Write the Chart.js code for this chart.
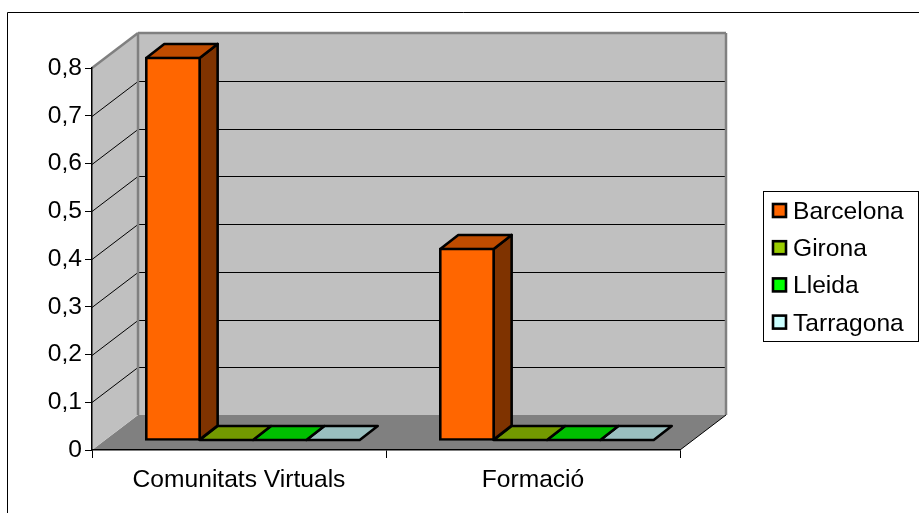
<!DOCTYPE html>
<html>
<head>
<meta charset="utf-8">
<style>
  html, body { margin: 0; padding: 0; background: #fff; }
  canvas { display: block; }
</style>
<script src="https://cdn.jsdelivr.net/npm/chart.js@4"></script>
</head>
<body>
<canvas id="chart" width="919" height="513"></canvas>
<script>
const categories = ["Comunitats Virtuals", "Formació"];
const barcelona = [0.8, 0.4];
const girona = [0, 0];
const lleida = [0, 0];
const tarragona = [0, 0];
const yTickLabels = ["0", "0,1", "0,2", "0,3", "0,4", "0,5", "0,6", "0,7", "0,8"];

const FONT = '"Liberation Sans", Arial, sans-serif';
const FONT_SIZE = 24.6;

// Oblique projection used for the box: full depth of the room, and the bars' place in it.
const ROOM = { dx: 46, dy: -35 };
const BAR_OFFSET = { dx: 14, dy: -10 };
const BAR_DEPTH = { dx: 18, dy: -14 };
const EDGE = 2.6;

function poly(ctx, pts, fill, stroke, lw) {
  ctx.beginPath();
  pts.forEach((p, i) => i ? ctx.lineTo(p[0], p[1]) : ctx.moveTo(p[0], p[1]));
  ctx.closePath();
  if (fill) { ctx.fillStyle = fill; ctx.fill(); }
  if (stroke) { ctx.strokeStyle = stroke; ctx.lineWidth = lw; ctx.lineJoin = 'round'; ctx.stroke(); }
}

function segment(ctx, x1, y1, x2, y2, color, lw) {
  ctx.beginPath();
  ctx.moveTo(x1, y1);
  ctx.lineTo(x2, y2);
  ctx.strokeStyle = color;
  ctx.lineWidth = lw;
  ctx.stroke();
}

// Outer frame, side wall, back wall, floor and grid of the 3D room.
const roomPlugin = {
  id: 'room',
  beforeDraw(chart) {
    const { ctx, chartArea: a, scales: { y } } = chart;
    const { dx, dy } = ROOM;
    ctx.save();
    ctx.fillStyle = '#fff';
    ctx.fillRect(0, 0, chart.width, chart.height);
    segment(ctx, 7.5, 12.5, 919, 12.5, '#000', 1);
    segment(ctx, 7.5, 12.5, 7.5, 513, '#000', 1);

    poly(ctx, [[a.left, a.bottom], [a.left + dx, a.bottom + dy], [a.right + dx, a.bottom + dy], [a.right, a.bottom]], '#808080');
    poly(ctx, [[a.left + dx, a.top + dy], [a.right + dx, a.top + dy], [a.right + dx, a.bottom + dy], [a.left + dx, a.bottom + dy]], '#C0C0C0');
    poly(ctx, [[a.left, a.top], [a.left + dx, a.top + dy], [a.left + dx, a.bottom + dy], [a.left, a.bottom]], '#C0C0C0');

    y.ticks.forEach(t => {
      if (t.value <= 0 || t.value >= y.max - 1e-9) return;
      const py = Math.round(y.getPixelForValue(t.value)) + 0.5;
      segment(ctx, a.left, py, a.left + dx, py + dy, '#000', 1);
      segment(ctx, a.left + dx, py + dy, a.right + dx, py + dy, '#000', 1);
    });

    // Grey edges of the walls
    segment(ctx, a.left, a.top, a.left + dx, a.top + dy, '#808080', 2.5);
    segment(ctx, a.left + dx, a.top + dy, a.right + dx, a.top + dy, '#808080', 2.5);
    segment(ctx, a.left + dx, a.top + dy, a.left + dx, a.bottom + dy, '#808080', 2.5);
    segment(ctx, a.right + dx, a.top + dy, a.right + dx, a.bottom + dy, '#808080', 2.5);
    segment(ctx, a.right, a.bottom, a.right + dx, a.bottom + dy, '#000', 1);
    ctx.restore();
  }
};

// Shifts each series into the room and adds the top and side faces of its bars.
const extrudePlugin = {
  id: 'extrude',
  beforeDatasetDraw(chart, args) {
    const { ctx } = chart;
    const ds = chart.data.datasets[args.index];
    ctx.save();
    ctx.translate(BAR_OFFSET.dx, BAR_OFFSET.dy);
    args.meta.data.forEach(el => {
      const { x, y, base, width } = el.getProps(['x', 'y', 'base', 'width'], true);
      const l = x - width / 2, r = x + width / 2;
      const { dx, dy } = BAR_DEPTH;
      if (base - y > 0.5) {
        poly(ctx, [[r, y], [r + dx, y + dy], [r + dx, base + dy], [r, base]], ds.sideColor, '#000', EDGE);
      }
      poly(ctx, [[l, y], [l + dx, y + dy], [r + dx, y + dy], [r, y]], ds.topColor, '#000', EDGE);
    });
  },
  afterDatasetDraw(chart) {
    chart.ctx.restore();
  }
};

// Boxed key to the right of the room, listing the series in order.
const keyPlugin = {
  id: 'key',
  afterDraw(chart) {
    const { ctx } = chart;
    ctx.save();
    ctx.strokeStyle = '#000';
    ctx.lineWidth = 1;
    ctx.strokeRect(763.5, 191.5, 155, 150);
    ctx.font = FONT_SIZE + 'px ' + FONT;
    ctx.textAlign = 'left';
    ctx.textBaseline = 'alphabetic';
    chart.data.datasets.forEach((ds, i) => {
      const row = 37.2 * i;
      ctx.fillStyle = ds.backgroundColor;
      ctx.strokeStyle = '#000';
      ctx.lineWidth = EDGE;
      ctx.fillRect(773, 204 + row, 13, 13);
      ctx.strokeRect(773, 204 + row, 13, 13);
      ctx.fillStyle = '#000';
      ctx.fillText(ds.label, 793, 219 + row);
    });
    ctx.restore();
  }
};

function series(label, data, front, top, side) {
  return {
    label, data,
    backgroundColor: front, topColor: top, sideColor: side,
    borderColor: '#000', borderWidth: EDGE, borderSkipped: false, inflateAmount: EDGE / 2, clip: false,
    categoryPercentage: 0.726, barPercentage: 1
  };
}

new Chart(document.getElementById('chart'), {
  type: 'bar',
  data: {
    labels: categories,
    datasets: [
      series('Barcelona', barcelona, '#FF6600', '#BF4C00', '#7F3300'),
      series('Girona', girona, '#99CC00', '#739900', '#4C6600'),
      series('Lleida', lleida, '#00FF00', '#00BF00', '#007F00'),
      series('Tarragona', tarragona, '#CCFFFF', '#99BFBF', '#667F7F')
    ]
  },
  plugins: [roomPlugin, extrudePlugin, keyPlugin],
  options: {
    responsive: false,
    animation: false,
    events: [],
    layout: { autoPadding: false, padding: { left: 0, top: 68, right: 239, bottom: 0 } },
    plugins: { legend: { display: false }, tooltip: { enabled: false } },
    scales: {
      x: {
        afterFit(s) { s.height = 63; },
        grid: { drawOnChartArea: false, tickLength: 8, color: '#000', tickColor: '#000' },
        border: { color: '#000', width: 1.5 },
        ticks: { color: '#000', font: { family: FONT, size: FONT_SIZE }, padding: 7, maxRotation: 0 }
      },
      y: {
        min: 0,
        max: 0.8,
        afterFit(s) { s.width = 92; },
        grid: { drawOnChartArea: false, tickLength: 7, color: '#000', tickColor: '#000' },
        border: { color: '#000', width: 1.5 },
        ticks: {
          stepSize: 0.1,
          autoSkip: false,
          color: '#000',
          padding: 3,
          font: { family: FONT, size: FONT_SIZE },
          callback: (v, i) => yTickLabels[i]
        }
      }
    }
  }
});
</script>
</body>
</html>
